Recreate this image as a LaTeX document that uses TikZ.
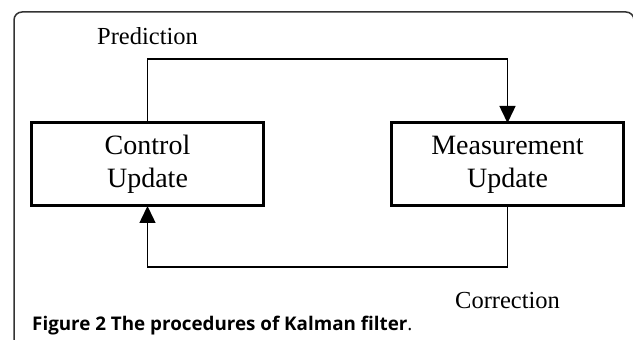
\documentclass[tikz,border=0pt]{standalone}
\usepackage{fontspec}
\setmainfont{Liberation Serif}
\newfontfamily\capfont{Open Sans}
\usetikzlibrary{positioning,arrows.meta}

\tikzset{
  update/.style={draw, line width=3pt, outer sep=0pt, minimum width=232pt,
    minimum height=83pt, align=center, font=\fontsize{28}{33}\selectfont},
  flow/.style={line width=1.5pt, -{Triangle[width=16pt,length=17pt]}},
  lbl/.style={font=\fontsize{24.5}{28}\selectfont, inner sep=0pt},
}

\begin{document}
\begin{tikzpicture}[x=1pt,y=1pt]
\useasboundingbox (0,0) rectangle (633,340);
% frame of the figure
\draw[black!80, line width=1.5pt, rounded corners=8pt]
  (14,-5) |- (634,328) -- (634,300);

\node[update] (ctrl) at (147.5,175.5) {Control\\Update};
\node[update, right=128pt of ctrl] (meas) {Measurement\\Update};
\coordinate (ptop) at (0,281);
\coordinate (cbot) at (0,73);

\draw[flow] (ctrl.north) |- (ptop -| meas.north) -- (meas.north);
\draw[flow] (meas.south) |- (cbot -| ctrl.south) -- (ctrl.south);

\node[lbl, anchor=base west] (pred) at (97,295) {Prediction};
\node[lbl, anchor=base west] (corr) at (455,31) {Correction};

\node[anchor=base west, inner sep=0pt, font=\capfont\fontsize{18.8}{22}\selectfont] (cap) at (32,9)
  {\textbf{Figure 2 The procedures of Kalman filter}.};
\end{tikzpicture}
\end{document}
